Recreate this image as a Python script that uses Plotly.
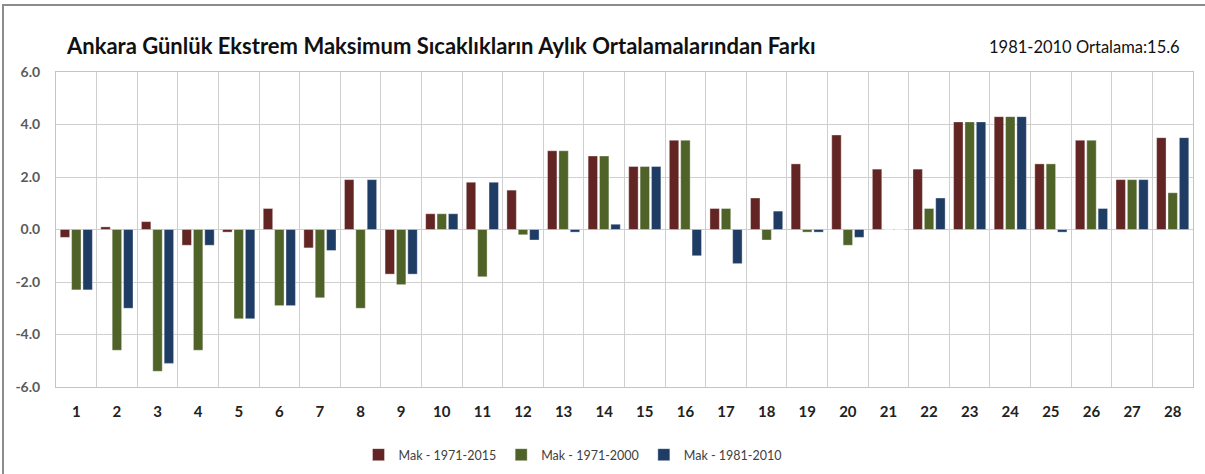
import plotly.graph_objects as go

days = [str(i) for i in range(1, 29)]
mak_1971_2015 = [-0.3, 0.1, 0.3, -0.6, -0.1, 0.8, -0.7, 1.9, -1.7, 0.6, 1.8, 1.5, 3.0, 2.8,
                 2.4, 3.4, 0.8, 1.2, 2.5, 3.6, 2.3, 2.3, 4.1, 4.3, 2.5, 3.4, 1.9, 3.5]
mak_1971_2000 = [-2.3, -4.6, -5.4, -4.6, -3.4, -2.9, -2.6, -3.0, -2.1, 0.6, -1.8, -0.2, 3.0, 2.8,
                 2.4, 3.4, 0.8, -0.4, -0.1, -0.6, 0.0, 0.8, 4.1, 4.3, 2.5, 3.4, 1.9, 1.4]
mak_1981_2010 = [-2.3, -3.0, -5.1, -0.6, -3.4, -2.9, -0.8, 1.9, -1.7, 0.6, 1.8, -0.4, -0.1, 0.2,
                 2.4, -1.0, -1.3, 0.7, -0.1, -0.3, 0.0, 1.2, 4.1, 4.3, -0.1, 0.8, 1.9, 3.5]
y_ticks = [-6.0, -4.0, -2.0, 0.0, 2.0, 4.0, 6.0]

series = [
    ("Mak - 1971-2015", mak_1971_2015, "#632523"),
    ("Mak - 1971-2000", mak_1971_2000, "#4F6228"),
    ("Mak - 1981-2010", mak_1981_2010, "#1F3C64"),
]

L, R, T, B = 56, 12, 72, 87
PW, PH = 1205 - L - R, 474 - T - B

def px(x):
    return (x - L) / PW

def py(y):
    return (474 - B - y) / PH

fig = go.Figure()
for name, vals, col in series:
    fig.add_trace(go.Bar(x=days, y=vals, name=name,
                         marker=dict(color=col, line=dict(color="rgba(255,255,255,0.6)", width=0.6))))

FONT = "Lato, 'Open Sans', sans-serif"
fig.update_layout(
    width=1205, height=474,
    paper_bgcolor="white", plot_bgcolor="white",
    margin=dict(l=L, r=R, t=T, b=B, autoexpand=False),
    barmode="group", bargap=0.16, bargroupgap=0.17,
    font=dict(family=FONT, color="#404040"),
    showlegend=True,
    legend=dict(orientation="h", x=px(573), xanchor="center", y=py(455), yanchor="middle",
                font=dict(size=12.5, color="#404040"), traceorder="normal",
                itemwidth=30),
    xaxis=dict(type="category", tickson="boundaries", showgrid=True, gridcolor="#CFCFCF", gridwidth=1,
               showline=True, linecolor="#C4C4C4", mirror=True, ticks="", automargin=False,
               ticklabelstandoff=11,
               tickfont=dict(size=15, color="#222222", weight="bold")),
    yaxis=dict(range=[-6, 6], tickvals=y_ticks, ticktext=[f"{v:.1f}" for v in y_ticks],
               showgrid=True, gridcolor="#CFCFCF", gridwidth=1, zeroline=False, automargin=False,
               showline=True, linecolor="#C4C4C4", mirror=True, ticks="",
               tickfont=dict(size=14, color="#5A5A5A", weight="bold"), ticklabelstandoff=12),
    annotations=[
        dict(text="<b>Ankara Günlük Ekstrem Maksimum Sıcaklıkların Aylık Ortalamalarından Farkı</b>",
             xref="paper", yref="paper", x=px(64), y=py(45),
             xanchor="left", yanchor="middle", showarrow=False,
             font=dict(size=22, color="#111111", family=FONT)),
        dict(text="1981-2010 Ortalama:15.6",
             xref="paper", yref="paper", x=px(1182), y=py(47),
             xanchor="right", yanchor="middle", showarrow=False,
             font=dict(size=16.5, color="#111111", family=FONT)),
    ],
    shapes=[
        dict(type="line", xref="paper", yref="paper", x0=px(2), x1=px(1205),
             y0=py(5), y1=py(5), line=dict(color="#8C8C8C", width=2)),
        dict(type="line", xref="paper", yref="paper", x0=px(3), x1=px(3),
             y0=py(5), y1=py(474), line=dict(color="#8C8C8C", width=2)),
    ],
)

fig.write_html("out.html", config={"displayModeBar": False},
               post_script="document.body.style.margin='0';document.body.style.overflow='hidden';")
